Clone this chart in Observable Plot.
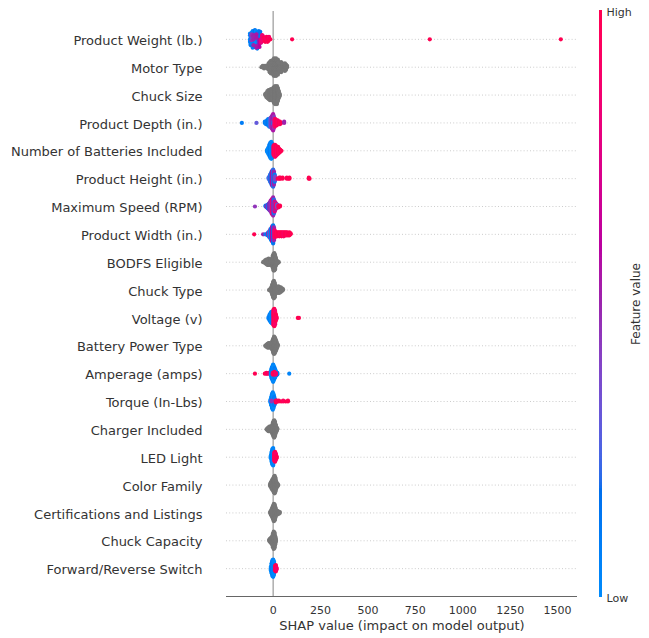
<!DOCTYPE html>
<html>
<head>
<meta charset="utf-8">
<script src="https://cdn.jsdelivr.net/npm/d3@7"></script>
<script src="https://cdn.jsdelivr.net/npm/@observablehq/plot@0.6"></script>
<style>
  html, body { margin: 0; padding: 0; background: white; }
  #wrap { position: relative; width: 649px; height: 638px; }
  #cbar { position: absolute; left: 580px; top: 0; }
  #main { position: absolute; left: 0; top: 0; }
</style>
</head>
<body>
<div id="wrap"><div id="main"></div><div id="cbar"></div></div>
<script>
// Feature names, top to bottom
const featureNames = [
  "Product Weight (lb.)", "Motor Type", "Chuck Size", "Product Depth (in.)",
  "Number of Batteries Included", "Product Height (in.)", "Maximum Speed (RPM)",
  "Product Width (in.)", "BODFS Eligible", "Chuck Type", "Voltage (v)",
  "Battery Power Type", "Amperage (amps)", "Torque (In-Lbs)", "Charger Included",
  "LED Light", "Color Family", "Certifications and Listings", "Chuck Capacity",
  "Forward/Reverse Switch"
];
const xTicks = [0, 250, 500, 750, 1000, 1250, 1500];

// Each entry: [SHAP value, feature value (0 = low, 1 = high, null = non-numeric), number of samples]
const productWeight = [[-122,0.05,5],[-118,0.1,7],[-112,0.0,3],[-108,0.05,7],[-100,0.1,7],[-96,0.15,4],[-92,0.0,7],[-84,0.1,8],[-80,0.2,5],[-76,0.1,6],[-68,0.15,5],[-114,0.45,3],[-104,0.5,4],[-88,0.55,4],[-72,0.6,4],[-64,0.8,3],[-62,0.85,2],[-58,0.9,2],[-54,0.8,2],[-50,1,1],[-46,0.95,2],[-42,1,2],[-38,0.9,2],[-34,1,1],[-30,0.95,2],[-26,1,2],[-22,0.9,2],[-18,1,1],[-15,1,1],[100,1,1],[826,1,1],[1517,1,1]];
const motorType = [[-62,null,1],[-55,null,2],[-48,null,3],[-40,null,2],[-32,null,3],[-24,null,6],[-18,null,9],[-12,null,11],[-6,null,9],[0,null,13],[5,null,15],[10,null,12],[15,null,15],[20,null,11],[25,null,13],[30,null,8],[36,null,5],[42,null,9],[48,null,6],[55,null,3],[62,null,7],[68,null,5],[74,null,2]];
const chuckSize = [[-42,null,2],[-36,null,5],[-30,null,8],[-24,null,10],[-18,null,11],[-12,null,12],[-6,null,11],[0,null,14],[5,null,17],[10,null,19],[15,null,17],[20,null,19],[25,null,14],[30,null,8],[35,null,3]];
const productDepth = [[-165,0.1,1],[-88,0.3,1],[-44,0.1,2],[-38,0.05,3],[-32,0.1,4],[-26,0.15,6],[-20,0.05,7],[-14,0.3,8],[-8,0.45,10],[-6,0.1,4],[-4,0.5,12],[0,0.55,14],[2,0.0,3],[4,0.45,10],[8,0.9,7],[12,0.95,6],[18,1,5],[24,0.9,4],[30,1,3],[36,0.95,3],[42,1,1],[58,0.5,2]];
const numBatteries = [[-32,0.05,3],[-26,0.0,7],[-20,0.05,12],[-15,0.1,16],[-10,0.0,18],[-5,0.05,15],[-1,0.1,8],[2,0.9,10],[6,1,12],[10,0.95,13],[15,1,11],[20,0.9,9],[26,1,8],[32,0.95,5],[38,1,3],[44,1,1]];
const productHeight = [[-24,0.1,2],[-20,0.3,4],[-16,0.05,8],[-12,0.5,10],[-8,0.1,14],[-4,0.6,16],[0,0.2,18],[4,0.5,14],[8,0.1,8],[11,0.4,4],[24,1,1],[32,0.95,2],[38,1,2],[50,1,2],[72,1,2],[80,0.95,1],[86,1,2],[188,1,2],[192,1,1]];
const maxSpeed = [[-96,0.45,1],[-40,0.1,2],[-34,0.5,3],[-28,0.1,5],[-22,0.6,7],[-18,0.2,9],[-13,0.7,12],[-8,0.4,15],[-4,0.9,17],[0,0.5,19],[4,0.2,15],[8,0.8,11],[12,0.5,8],[16,0.9,6],[22,0.3,4],[28,0.95,3],[36,1,2]];
const productWidth = [[-100,1,1],[-53,0.5,1],[-42,0.2,1],[-30,0.1,3],[-25,0.5,4],[-20,0.05,7],[-15,0.4,10],[-10,0.1,13],[-5,0.6,16],[0,0.15,19],[4,0.5,14],[8,0.9,8],[14,1,5],[20,0.95,5],[26,1,4],[32,1,5],[38,0.95,4],[44,1,5],[50,1,4],[56,0.9,5],[62,1,4],[68,1,4],[74,0.95,4],[80,1,3],[86,1,4],[92,1,2]];
const bodfsEligible = [[-53,null,1],[-47,null,2],[-42,null,4],[-36,null,6],[-30,null,7],[-24,null,8],[-18,null,7],[-12,null,6],[-6,null,9],[-2,null,14],[2,null,19],[6,null,20],[10,null,17],[14,null,10],[18,null,5],[24,null,3],[30,null,1]];
const chuckType = [[-22,null,1],[-16,null,2],[-10,null,6],[-5,null,12],[0,null,18],[4,null,20],[8,null,17],[12,null,10],[16,null,6],[22,null,7],[28,null,8],[34,null,7],[40,null,6],[46,null,4],[52,null,2]];
const voltage = [[-24,0.05,3],[-18,0.1,8],[-12,0.0,12],[-6,0.05,14],[-2,0.1,12],[2,0.95,18],[6,1,20],[10,0.9,16],[14,1,8],[18,0.95,3],[130,1,1],[136,1,1]];
const batteryPowerType = [[-42,null,1],[-36,null,3],[-30,null,5],[-24,null,6],[-18,null,6],[-12,null,5],[-7,null,7],[-3,null,12],[1,null,17],[5,null,20],[9,null,18],[13,null,14],[17,null,10],[21,null,5],[25,null,2]];
const amperage = [[-96,1,1],[-44,1,1],[-36,0.95,2],[-30,1,1],[-22,0.9,2],[-12,0.05,6],[-8,0.0,12],[-4,0.1,16],[0,0.05,20],[4,0.0,16],[8,0.1,12],[12,0.05,8],[16,0.0,5],[22,0.1,3],[-2,0.95,3],[6,1,4],[14,0.9,3],[85,0.05,1]];
const torque = [[-14,0.05,4],[-10,0.0,10],[-6,0.1,16],[-2,0.05,20],[2,0.0,16],[6,0.1,10],[10,0.05,5],[-8,0.45,2],[14,1,3],[20,0.95,2],[30,1,2],[42,1,1],[53,0.95,2],[66,1,1],[78,1,2]];
const chargerIncluded = [[-35,null,1],[-30,null,3],[-25,null,5],[-20,null,6],[-15,null,6],[-10,null,5],[-6,null,9],[-2,null,14],[2,null,18],[6,null,20],[10,null,16],[14,null,10],[18,null,5],[22,null,2]];
const ledLight = [[-12,0.05,4],[-8,0.0,12],[-4,0.1,18],[0,0.05,20],[3,0.0,12],[6,0.95,10],[10,1,12],[14,0.9,8],[18,1,3]];
const colorFamily = [[-16,null,3],[-12,null,6],[-8,null,9],[-4,null,12],[0,null,14],[4,null,18],[8,null,20],[12,null,16],[16,null,9],[20,null,5],[24,null,3],[27,null,1]];
const certifications = [[-16,null,2],[-12,null,5],[-8,null,8],[-4,null,12],[0,null,16],[4,null,20],[8,null,18],[12,null,12],[16,null,6],[20,null,5],[25,null,4],[30,null,3],[35,null,2]];
const chuckCapacity = [[-21,null,2],[-17,null,4],[-13,null,6],[-9,null,7],[-5,null,10],[-1,null,16],[3,null,20],[7,null,18],[11,null,10],[14,null,4]];
const forwardReverse = [[-12,0.05,5],[-8,0.0,12],[-4,0.1,18],[0,0.05,20],[4,0.0,16],[8,0.1,8],[10,0.95,6],[14,1,8],[18,0.9,3]];

const rows = [productWeight, motorType, chuckSize, productDepth, numBatteries, productHeight,
  maxSpeed, productWidth, bodfsEligible, chuckType, voltage, batteryPowerType, amperage,
  torque, chargerIncluded, ledLight, colorFamily, certifications, chuckCapacity, forwardReverse];

// SHAP red_blue colormap (LCH interpolation, D65)
function lch2rgb(L, C, H) {
  const a = C * Math.cos(H), b = C * Math.sin(H);
  const fy = (L + 16) / 116, fx = fy + a / 500, fz = fy - b / 200;
  const finv = t => t > 6 / 29 ? t * t * t : 3 * (6 / 29) * (6 / 29) * (t - 4 / 29);
  const X = 0.95047 * finv(fx), Y = finv(fy), Z = 1.08883 * finv(fz);
  const lin = [
    3.2404542 * X - 1.5371385 * Y - 0.4985314 * Z,
    -0.9692660 * X + 1.8760108 * Y + 0.0415560 * Z,
    0.0556434 * X - 0.2040259 * Y + 1.0572252 * Z
  ];
  const g = v => { v = Math.max(0, Math.min(1, v)); return v <= 0.0031308 ? 12.92 * v : 1.055 * Math.pow(v, 1 / 2.4) - 0.055; };
  return d3.rgb(g(lin[0]) * 255, g(lin[1]) * 255, g(lin[2]) * 255).formatHex();
}
const blueLch = [54, 70, 4.6588], redLch = [54, 90, 0.35470565 + 2 * Math.PI], lMid = 40;
function shapColor(t) {
  t = Math.max(0, Math.min(1, t));
  const L = t < 0.5 ? blueLch[0] + (lMid - blueLch[0]) * (t / 0.5) : lMid + (redLch[0] - lMid) * ((t - 0.5) / 0.5);
  const C = blueLch[1] + (redLch[1] - blueLch[1]) * t;
  const H = blueLch[2] + (redLch[2] - blueLch[2]) * t;
  return lch2rgb(L, C, H);
}

// SHAP beeswarm layout (binning + alternating layers)
function swarm(groups, pos) {
  const pts = [];
  groups.forEach(([v, fv, n]) => { for (let k = 0; k < n; k++) pts.push({v, fv, pos}); });
  const mn = d3.min(pts, p => p.v), mx = d3.max(pts, p => p.v);
  const N = pts.length;
  const quant = pts.map(p => Math.round(100 * (p.v - mn) / (mx - mn + 1e-8)));
  const key = i => (i * 0.6180339887) % 1;
  const order = d3.range(N).sort((a, b) => quant[a] - quant[b] || key(a) - key(b));
  const ys = new Array(N).fill(0);
  let layer = 0, last = -1;
  for (const i of order) {
    if (quant[i] !== last) layer = 0;
    ys[i] = Math.ceil(layer / 2) * ((layer % 2) * 2 - 1);
    layer++; last = quant[i];
  }
  const m = d3.max(ys, d => d + 1);
  pts.forEach((p, i) => { p.y = pos + ys[i] * 0.9 * (0.4 / m); });
  return pts;
}
const points = rows.flatMap((g, i) => swarm(g, rows.length - 1 - i));
const grayPts = points.filter(p => p.fv == null);
const colorPts = points.filter(p => p.fv != null);

const colorScale = {type: "linear", domain: [0, 1], interpolate: shapColor, clamp: true};
const font = "DejaVu Sans, sans-serif";

const main = Plot.plot({
  width: 649, height: 638,
  marginLeft: 226, marginRight: 72, marginTop: 11, marginBottom: 42,
  style: {fontFamily: font, fontSize: "13px", color: "#333", background: "white", overflow: "visible"},
  x: {domain: [-246, 1605]},
  y: {domain: [-1, 20]},
  color: colorScale,
  marks: [
    Plot.ruleY(d3.range(rows.length), {stroke: "#cccccc", strokeWidth: 1, strokeDasharray: "1,2.2"}),
    Plot.ruleX([0], {stroke: "#999999", strokeWidth: 1.2}),
    Plot.ruleY([-1], {stroke: "#666", strokeWidth: 1}),
    Plot.dot(grayPts, {x: "v", y: "y", r: 2.1, fill: "#777777", stroke: null}),
    Plot.dot(colorPts, {x: "v", y: "y", r: 2.1, fill: "fv", stroke: null}),
    Plot.axisY({ticks: d3.range(rows.length), tickFormat: i => featureNames[rows.length - 1 - i],
      tickSize: 0, tickPadding: 24, fontSize: 13, dy: 1.5, label: null}),
    Plot.axisX({ticks: xTicks, tickFormat: d => String(d), tickSize: 0, tickPadding: 10, fontSize: 11, label: null}),
    Plot.text(["SHAP value (impact on model output)"], {frameAnchor: "bottom", dy: 33, fontSize: 13, fill: "#333"})
  ]
});
document.getElementById("main").appendChild(main);

const stops = d3.range(0, 1, 0.005);
const cbar = Plot.plot({
  width: 69, height: 638,
  marginLeft: 19, marginRight: 47, marginTop: 10, marginBottom: 41,
  style: {fontFamily: font, fontSize: "11px", color: "#333", background: "transparent", overflow: "visible"},
  x: {domain: [0, 1], axis: null},
  y: {domain: [0, 1], axis: null},
  color: colorScale,
  marks: [
    Plot.rect(stops, {x1: 0, x2: 1, y1: d => d, y2: d => Math.min(1, d + 0.0065), fill: d => d + 0.0025}),
    Plot.text(["High"], {x: 1, y: 1, dx: 4, dy: 2, textAnchor: "start", fontSize: 11, fill: "#333"}),
    Plot.text(["Low"], {x: 1, y: 0, dx: 4, dy: 1, textAnchor: "start", fontSize: 11, fill: "#333"}),
    Plot.text(["Feature value"], {x: 1, y: 0.5, dx: 34, rotate: -90, fontSize: 12, fill: "#333"})
  ]
});
document.getElementById("cbar").appendChild(cbar);
</script>
</body>
</html>
